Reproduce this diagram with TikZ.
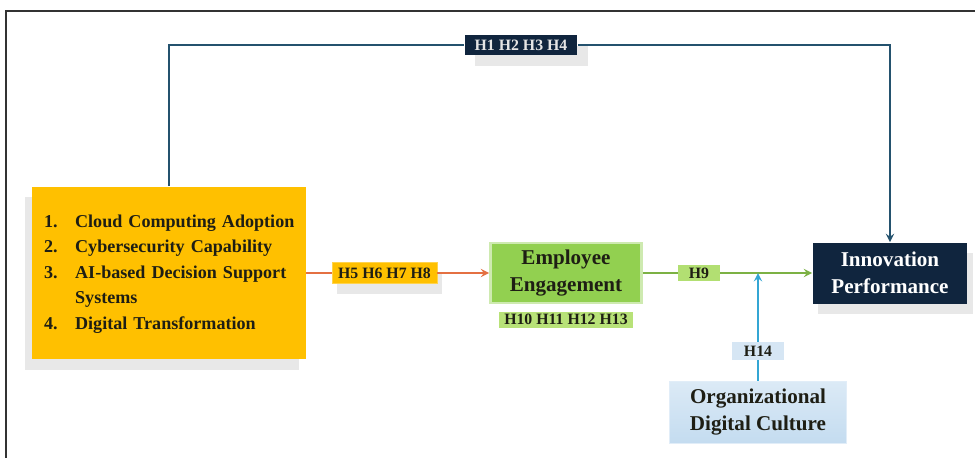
\documentclass[tikz,border=0pt]{standalone}
\usepackage{fontspec}
\setmainfont{Liberation Serif}
\usetikzlibrary{arrows,arrows.meta,positioning,shadows}
\definecolor{fwyellow}{RGB}{255,192,0}
\definecolor{fwnavy}{RGB}{16,37,62}
\definecolor{fwteal}{RGB}{36,82,110}
\definecolor{fworange}{RGB}{228,112,66}
\definecolor{fwgreen}{RGB}{146,208,80}
\definecolor{fwlime}{RGB}{184,226,120}
\definecolor{fwsky}{RGB}{52,166,212}
\definecolor{fwpale}{RGB}{196,220,240}
\definecolor{fwink}{RGB}{30,30,20}
\tikzset{
  constructbox/.style={
    rectangle, align=center, inner sep=2pt,
    font=\fontsize{12}{15.5}\selectfont\bfseries
  },
  hyplabel/.style={
    rectangle, inner xsep=3pt, inner ysep=1pt,
    font=\fontsize{9}{10}\selectfont\bfseries, text=fwink
  },
  softshadow/.style={
    drop shadow={shadow xshift=#1, shadow yshift=-6pt, fill=black, opacity=.09}
  },
  linkline/.style={line width=1.1pt, >=stealth}
}

\begin{document}
\begin{tikzpicture}[x=0.02cm, y=-0.02cm]
  \useasboundingbox (0,0) rectangle (975,458);
  \fill[white] (0,0) rectangle (975,458);
  \draw[line width=0.9pt, black!80] (975,11) -- (6,11) -- (6,458);

  % Constructs
  \node[constructbox, fill=fwyellow, softshadow=-4pt, minimum width=5.48cm,
        minimum height=3.46cm, text width=5.0cm, align=left, text=fwink,
        font=\fontsize{10.3}{14.5}\selectfont\bfseries] (tech) at (169,273)
    {\begin{tabular}{@{}l@{\hspace{10pt}}l@{}}
      1. & Cloud Computing Adoption\\
      2. & Cybersecurity Capability\\
      3. & AI-based Decision Support\\
         & Systems\\
      4. & Digital Transformation
     \end{tabular}};
  \node[constructbox, fill=fwgreen, draw=fwgreen!45, line width=1.5pt,
        minimum width=3.02cm, minimum height=1.2cm, text=fwink] (engage) at (566,273)
    {Employee\\Engagement};
  \node[constructbox, fill=fwnavy, softshadow=3pt, minimum width=3.1cm,
        minimum height=1.22cm, text=white] (innov) at (890,273)
    {Innovation\\Performance};
  \node[constructbox, top color=fwpale!60, bottom color=fwpale, draw=fwpale!50,
        minimum width=3.54cm, minimum height=1.24cm, text=fwink] (culture) at (758,412)
    {Organizational\\Digital Culture};

  % Hypothesis labels
  \node[hyplabel, fill=fwnavy, text=white!90!black, softshadow=6pt,
        minimum width=2.26cm, minimum height=0.4cm] (hdirect) at (521,45) {H1 H2 H3 H4};
  \node[hyplabel, fill=fwyellow, draw=fwyellow!70!white, softshadow=3pt,
        minimum width=2.1cm, minimum height=0.42cm] (hmed) at (384.5,273) {H5 H6 H7 H8};
  \node[hyplabel, fill=fwlime, minimum width=2.68cm, minimum height=0.32cm,
        below=0.14cm of engage] (hind) {H10 H11 H12 H13};
  \node[hyplabel, fill=fwlime!85!fwgreen, minimum width=0.84cm,
        minimum height=0.32cm] (hpath) at (699,273) {H9};
  \node[hyplabel, fill=fwpale!70, minimum width=1.04cm,
        minimum height=0.36cm] (hmod) at (758,351) {H14};
  \coordinate (modpt) at (758,273);

  % Arrows
  \draw[linkline, fwteal] (tech.north) |- (hdirect.west);
  \draw[linkline, fwteal, ->] (hdirect.east) -| (innov.north);
  \draw[linkline, fworange] (tech.east) -- (hmed.west);
  \draw[linkline, fworange, ->] (hmed.east) -- (engage.west);
  \draw[linkline, fwgreen!85!black] (engage.east) -- (hpath.west);
  \draw[linkline, fwgreen!85!black, ->] (hpath.east) -- (innov.west);
  \draw[linkline, fwsky] (culture.north) -- (hmod.south);
  \draw[linkline, fwsky, ->] (hmod.north) -- (modpt);
\end{tikzpicture}
\end{document}
